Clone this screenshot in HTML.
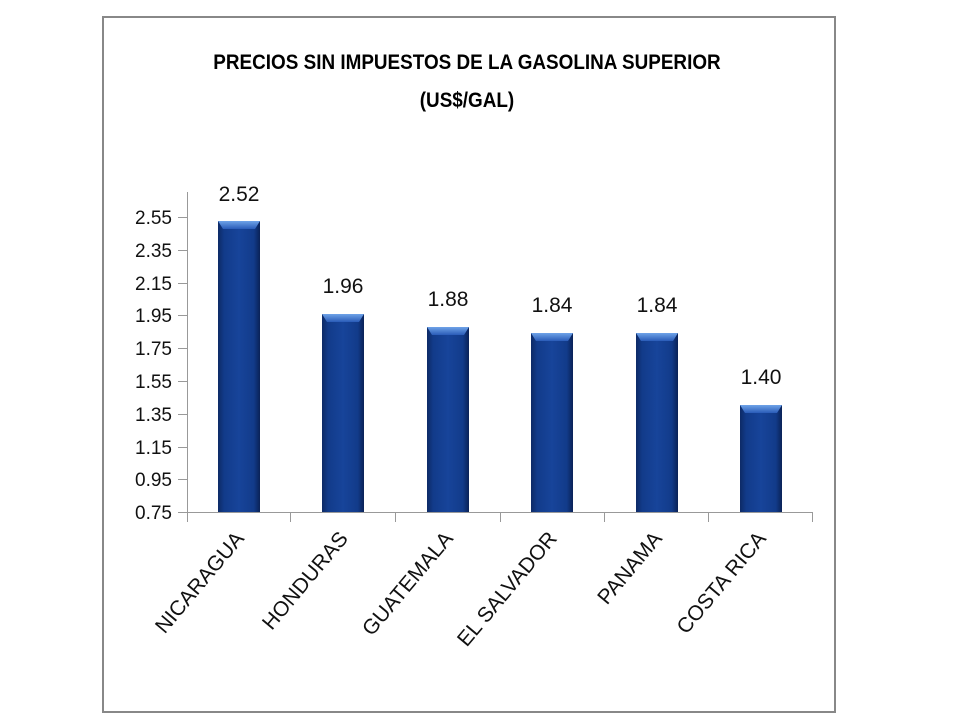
<!DOCTYPE html>
<html><head><meta charset="utf-8"><style>body{margin:0;background:#fff}</style></head>
<body>
<svg width="960" height="720" xmlns="http://www.w3.org/2000/svg" font-family="Liberation Sans, sans-serif">
<defs>
<linearGradient id="g" x1="0" x2="1" y1="0" y2="0">
<stop offset="0" stop-color="#0d2a66"/><stop offset="0.15" stop-color="#123b8a"/><stop offset="0.5" stop-color="#17449a"/><stop offset="0.85" stop-color="#123b8a"/><stop offset="1" stop-color="#0a2257"/>
</linearGradient>
<linearGradient id="c" x1="0" x2="0" y1="0" y2="1"><stop offset="0" stop-color="#6fa3e8"/><stop offset="1" stop-color="#2a5cb8"/></linearGradient>
</defs>
<rect x="103" y="17" width="732" height="695" fill="#fff" stroke="#888" stroke-width="2"/>
<text x="467" y="69" text-anchor="middle" font-size="21" font-weight="bold" transform="translate(467 0) scale(0.9 1) translate(-467 0)">PRECIOS SIN IMPUESTOS DE LA GASOLINA SUPERIOR</text>
<text x="467" y="107" text-anchor="middle" font-size="21" font-weight="bold" transform="translate(467 0) scale(0.9 1) translate(-467 0)">(US$/GAL)</text>
<g stroke="#999" stroke-width="1">
<line x1="187.5" y1="192" x2="187.5" y2="513"/>
<line x1="187" y1="512.5" x2="813" y2="512.5"/>
<line x1="178" y1="217.5" x2="187" y2="217.5"/><line x1="178" y1="250.5" x2="187" y2="250.5"/><line x1="178" y1="283.5" x2="187" y2="283.5"/><line x1="178" y1="315.5" x2="187" y2="315.5"/><line x1="178" y1="348.5" x2="187" y2="348.5"/><line x1="178" y1="381.5" x2="187" y2="381.5"/><line x1="178" y1="414.5" x2="187" y2="414.5"/><line x1="178" y1="447.5" x2="187" y2="447.5"/><line x1="178" y1="479.5" x2="187" y2="479.5"/><line x1="178" y1="512.5" x2="187" y2="512.5"/>
<line x1="187.5" y1="512" x2="187.5" y2="522"/><line x1="290.5" y1="512" x2="290.5" y2="522"/><line x1="395.5" y1="512" x2="395.5" y2="522"/><line x1="500.5" y1="512" x2="500.5" y2="522"/><line x1="604.5" y1="512" x2="604.5" y2="522"/><line x1="708.5" y1="512" x2="708.5" y2="522"/><line x1="812.5" y1="512" x2="812.5" y2="522"/>
</g>
<g font-size="19" text-anchor="end" fill="#111">
<text x="172" y="224">2.55</text><text x="172" y="257">2.35</text><text x="172" y="290">2.15</text><text x="172" y="322">1.95</text><text x="172" y="355">1.75</text><text x="172" y="388">1.55</text><text x="172" y="421">1.35</text><text x="172" y="454">1.15</text><text x="172" y="486">0.95</text><text x="172" y="519">0.75</text>
</g>
<g>
<rect x="218" y="221" width="42" height="291" fill="url(#g)"/><polygon points="218,221 260,221 255,229 223,229" fill="url(#c)"/>
<rect x="322" y="314" width="42" height="198" fill="url(#g)"/><polygon points="322,314 364,314 359,322 327,322" fill="url(#c)"/>
<rect x="427" y="327" width="42" height="185" fill="url(#g)"/><polygon points="427,327 469,327 464,335 432,335" fill="url(#c)"/>
<rect x="531" y="333" width="42" height="179" fill="url(#g)"/><polygon points="531,333 573,333 568,341 536,341" fill="url(#c)"/>
<rect x="636" y="333" width="42" height="179" fill="url(#g)"/><polygon points="636,333 678,333 673,341 641,341" fill="url(#c)"/>
<rect x="740" y="405" width="42" height="107" fill="url(#g)"/><polygon points="740,405 782,405 777,413 745,413" fill="url(#c)"/>
</g>
<g font-size="21" text-anchor="middle" fill="#111">
<text x="239" y="201">2.52</text><text x="343" y="293">1.96</text><text x="448" y="306">1.88</text><text x="552" y="312">1.84</text><text x="657" y="312">1.84</text><text x="761" y="384">1.40</text>
</g>
<g font-size="21" text-anchor="end" fill="#111">
<text transform="translate(245 539) rotate(-50)">NICARAGUA</text>
<text transform="translate(349 539) rotate(-50)">HONDURAS</text>
<text transform="translate(454 539) rotate(-50)">GUATEMALA</text>
<text transform="translate(558 539) rotate(-50)">EL SALVADOR</text>
<text transform="translate(663 539) rotate(-50)">PANAMA</text>
<text transform="translate(767 539) rotate(-50)">COSTA RICA</text>
</g>
</svg>
</body></html>
